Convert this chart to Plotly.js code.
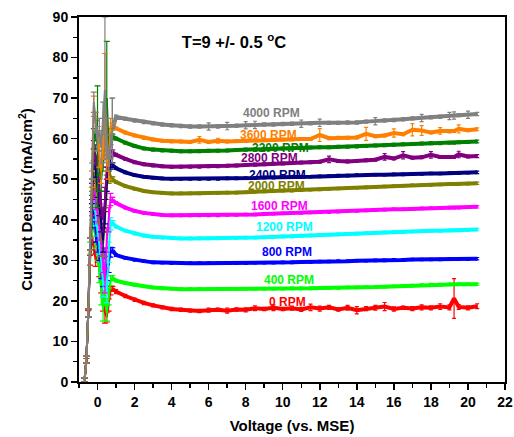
<!DOCTYPE html>
<html><head><meta charset="utf-8">
<script src="https://cdn.plot.ly/plotly-3.0.1.min.js"></script>
<style>html,body{margin:0;padding:0;background:#fff}</style>
</head><body>
<div id="chart" style="width:514px;height:437px"></div>
<script>
// Voltage (vs. MSE)
var voltage = [-0.7,-0.6,-0.5,-0.4,-0.3,-0.2,-0.1,0,0.1,0.2,0.3,0.4,0.5,0.6,0.7,0.8,
  1,1.5,2,2.5,3,3.5,4,4.5,5,5.5,6,6.5,7,7.5,8,8.5,9,9.5,10,10.5,11,11.5,12,12.5,13,13.5,14,14.5,15,15.5,16,16.5,17,17.5,18,18.5,19,19.25,19.5,20,20.5];

var seriesNames = ['0 RPM','400 RPM','800 RPM','1200 RPM','1600 RPM','2000 RPM','2400 RPM','2800 RPM','3200 RPM','3600 RPM','4000 RPM'];
var seriesColors = ['#ff0000','#00ff00','#0000ff','#00ffff','#ff00ff','#808000','#000080','#800080','#008000','#ff8000','#808080'];

// Current density (mA/cm^2)
var rpm0 = [0.4,5.2,16.8,30,36,33,30,31,28,24,20,17,16,19,22.5,23.0,
  22.3,21.2,20.3,19.5,18.9,18.4,18.0,17.8,17.6,17.5,17.7,17.8,17.6,17.9,17.8,18.2,18.0,18.3,18.0,18.2,17.9,18.4,18.1,18.4,17.9,18.3,17.7,18.1,18.3,18.6,18.0,18.3,18.1,18.4,18.3,18.6,18.4,20.6,18.5,18.3,18.7];
var rpm400 = [0.5,5.5,17,33,38,40,35,32,27,22,18,22,17,21,25,25.6,
  25.0,24.4,23.9,23.6,23.3,23.1,23.0,22.9,22.9,22.9,22.9,22.9,22.9,22.9,23.0,23.0,23.0,23.0,23.0,23.1,23.1,23.1,23.2,23.2,23.2,23.3,23.3,23.4,23.4,23.5,23.6,23.7,23.8,23.9,24.0,24.0,24.1,24.1,24.1,24.1,24.1];
var rpm800 = [0.5,5.5,17,34,40,43,37,34,32,28,26,30,27,29,32,32.5,
  31.3,30.6,30.1,29.8,29.5,29.4,29.3,29.3,29.3,29.3,29.3,29.3,29.3,29.3,29.3,29.4,29.4,29.4,29.5,29.5,29.6,29.6,29.7,29.7,29.8,29.8,29.9,29.9,30.0,30.0,30.1,30.1,30.2,30.2,30.2,30.2,30.3,30.3,30.3,30.3,30.4];
var rpm1200 = [0.5,5.5,17,34,42,45,41,38,34,30,24,27,22,32,39,39.2,
  38.3,37.3,36.6,36.1,35.8,35.6,35.5,35.4,35.4,35.4,35.4,35.4,35.5,35.5,35.6,35.6,35.7,35.8,35.9,35.9,36.0,36.1,36.2,36.3,36.4,36.5,36.6,36.7,36.8,36.9,37.0,37.0,37.1,37.2,37.3,37.3,37.4,37.4,37.4,37.5,37.6];
var rpm1600 = [0.5,5.5,17,34,43,48,45,42,38,34,30,25,35,40,45,44.9,
  44.1,43.0,42.2,41.7,41.4,41.2,41.1,41.1,41.1,41.1,41.1,41.1,41.2,41.2,41.3,41.3,41.4,41.5,41.6,41.6,41.7,41.8,41.9,41.9,42.0,42.1,42.2,42.3,42.4,42.5,42.6,42.6,42.7,42.8,42.9,42.9,43.0,43.0,43.0,43.1,43.2];
var rpm2000 = [0.5,5.5,17,34,45,52,50,46,42,38,34,40,48,52,51,50,
  49.3,48.3,47.6,47.1,46.8,46.6,46.5,46.5,46.5,46.5,46.6,46.6,46.7,46.7,46.8,46.9,47.0,47.1,47.2,47.2,47.3,47.4,47.5,47.6,47.7,47.8,47.9,48.0,48.1,48.2,48.3,48.4,48.5,48.5,48.6,48.7,48.8,48.8,48.8,48.9,49.0];
var rpm2400 = [0.5,5.5,17,34,46,55,53,48,44,40,35,42,50,56,54,53.5,
  52.7,51.7,51.0,50.6,50.3,50.2,50.1,50.1,50.1,50.1,50.1,50.1,50.2,50.2,50.3,50.3,50.4,50.4,50.5,50.5,50.6,50.6,50.7,50.8,50.9,50.9,51.0,51.0,51.1,51.1,51.2,51.2,51.3,51.3,51.4,51.4,51.5,51.5,51.5,51.6,51.7];
var rpm2800 = [0.5,5.5,17,34,47,57,56,52,47,44,40,45,53,55,57,56.6,
  56.0,55.0,54.2,53.7,53.4,53.2,53.1,53.1,53.1,53.1,53.2,53.2,53.3,53.4,53.5,53.6,53.7,53.8,53.9,54.0,54.1,54.2,54.3,54.9,54.5,54.4,54.5,54.7,54.8,55.5,55.1,55.9,55.3,55.4,56.0,55.5,55.5,55.5,56.1,55.6,55.7];
var rpm3200 = [0.5,5.5,17,34,48,60,62,58,54,50,55,60,70,58,61,60.5,
  60.0,59.0,58.2,57.6,57.3,57.1,57.0,56.9,56.9,56.9,57.0,57.0,57.1,57.2,57.3,57.3,57.4,57.5,57.6,57.6,57.7,57.8,57.9,57.9,58.0,58.0,58.1,58.2,58.3,58.4,58.5,58.6,58.7,58.8,58.9,58.9,59.0,59.0,59.1,59.2,59.3];
var rpm3600 = [0.5,5.5,17,34,50,68,64,60,56,52,58,68,55,53,63,63,
  62.5,61.5,60.8,60.2,59.8,59.5,59.3,59.3,59.2,59.7,59.2,59.5,59.3,59.4,59.5,59.6,59.7,59.7,59.8,59.8,59.9,59.9,60.9,60.1,60.2,60.2,60.3,61.2,60.6,60.8,61.4,61.1,62.2,62.0,61.5,61.9,61.8,61.9,62.4,62.1,62.3];
var rpm4000 = [0.5,5.5,17,34,52,69,64,60,62,58,65,72,60,55,58,62,
  65.4,64.9,64.5,64.1,63.8,63.5,63.3,63.1,63.0,63.0,63.0,63.0,63.1,63.2,63.3,63.4,63.5,63.5,63.6,63.7,63.7,63.8,63.9,63.9,63.9,64.0,64.0,64.2,64.3,64.5,64.6,64.8,65.0,65.1,65.3,65.4,65.6,65.7,65.8,65.9,66.1];

// Error bars (+/-)
var err0 = [0.5,0.6,0.8,1.2,1.5,1.5,1.5,1.5,2,2,2.5,2.5,1.2,1.5,1,0.6,
  0.5,0.4,0.4,0.4,0.4,0.4,0.4,0.4,0.4,0.4,0.5,0.4,0.6,0.4,0.5,0.6,0.4,0.7,0.4,0.5,0.5,0.8,0.6,0.5,0.4,0.6,0.9,0.5,0.6,1.0,0.5,0.4,0.5,0.6,0.5,0.7,0.6,4.9,0.6,0.5,0.6];
var err400 = [0.5,0.8,1,1.5,2,2,2,2,2.5,3,3,3,2,2,1.2,0.6,
  0.3,0.3,0.3,0.3,0.3,0.3,0.3,0.3,0.3,0.3,0.3,0.3,0.3,0.3,0.3,0.3,0.3,0.3,0.3,0.3,0.3,0.3,0.3,0.3,0.3,0.3,0.3,0.3,0.3,0.3,0.3,0.3,0.3,0.3,0.3,0.3,0.3,0.3,0.3,0.3,0.3];
var err800 = [0.5,0.8,1,1.5,2,2.5,2.5,2,2,2.5,2.5,3,2,2,1.2,0.6,
  0.3,0.3,0.3,0.3,0.3,0.3,0.3,0.3,0.3,0.3,0.3,0.3,0.3,0.3,0.3,0.3,0.3,0.3,0.3,0.3,0.3,0.3,0.3,0.3,0.3,0.3,0.3,0.3,0.3,0.3,0.3,0.3,0.3,0.3,0.3,0.3,0.3,0.3,0.3,0.3,0.3];
var err1200 = [0.5,0.8,1,1.5,2,2.5,2.5,2,2.5,3,3,3,2.5,2.5,1.5,0.6,
  0.3,0.3,0.3,0.3,0.3,0.3,0.3,0.3,0.3,0.3,0.3,0.3,0.3,0.3,0.3,0.3,0.3,0.3,0.3,0.3,0.3,0.3,0.3,0.3,0.3,0.3,0.3,0.3,0.3,0.3,0.3,0.3,0.3,0.3,0.3,0.3,0.3,0.3,0.3,0.3,0.3];
var err1600 = [0.5,0.8,1,1.5,2,2.5,2.5,2.5,3,3,3,3,3,3,1.5,0.6,
  0.3,0.3,0.3,0.3,0.3,0.3,0.3,0.3,0.3,0.3,0.3,0.3,0.3,0.3,0.3,0.3,0.3,0.3,0.3,0.3,0.3,0.3,0.3,0.3,0.3,0.3,0.3,0.3,0.3,0.3,0.3,0.3,0.3,0.3,0.3,0.3,0.3,0.3,0.3,0.3,0.3];
var err2000 = [0.5,0.8,1,1.5,2,2.5,2.5,2.5,3,3,3,3,3,3,1.5,0.6,
  0.3,0.3,0.3,0.3,0.3,0.3,0.3,0.3,0.3,0.3,0.3,0.3,0.3,0.3,0.3,0.3,0.3,0.3,0.3,0.3,0.3,0.3,0.3,0.3,0.3,0.3,0.3,0.3,0.3,0.3,0.3,0.3,0.3,0.3,0.3,0.3,0.3,0.3,0.3,0.3,0.3];
var err2400 = [0.5,0.8,1,1.5,2,2.5,2.5,2.5,3,3,3,3,3,3,1.5,0.6,
  0.3,0.3,0.3,0.3,0.3,0.3,0.3,0.3,0.3,0.3,0.3,0.3,0.3,0.3,0.3,0.3,0.3,0.3,0.3,0.3,0.3,0.3,0.3,0.3,0.3,0.3,0.3,0.3,0.3,0.3,0.3,0.3,0.3,0.3,0.3,0.3,0.3,0.3,0.3,0.3,0.3];
var err2800 = [0.5,0.8,1,1.5,2,2.5,2.5,2.5,3,3,3,3,3,3,1.5,0.6,
  0.35,0.35,0.35,0.35,0.35,0.35,0.35,0.35,0.35,0.35,0.35,0.35,0.35,0.35,0.35,0.35,0.35,0.35,0.35,0.35,0.35,0.35,0.35,0.8,0.35,0.35,0.35,0.35,0.35,0.8,0.35,0.9,0.35,0.35,0.8,0.35,0.35,0.35,0.8,0.35,0.35];
var err3200 = [0.5,0.8,1,1.5,2,2.5,2.5,15,3,3,3,3,14,3,1.5,0.6,
  0.35,0.35,0.35,0.35,0.35,0.35,0.35,0.35,0.35,0.35,0.35,0.35,0.35,0.35,0.35,0.35,0.35,0.35,0.35,0.35,0.35,0.35,0.35,0.35,0.35,0.35,0.35,0.35,0.35,0.35,0.35,0.35,0.35,0.35,0.35,0.35,0.35,0.35,0.35,0.35,0.35];
var err3600 = [0.5,0.8,1,1.5,2,2.5,2.5,3,3,3,3,13,3,3,2,0.8,
  0.35,0.35,0.35,0.35,0.35,0.35,0.35,0.35,0.35,0.8,0.35,0.6,0.35,0.35,0.35,0.35,0.35,0.35,0.35,0.35,0.35,0.35,1.6,0.35,0.35,0.35,0.35,1.6,0.35,0.35,1.0,0.35,1.5,1.2,0.35,0.8,0.35,0.35,1.0,0.35,0.35];
var err4000 = [0.5,0.8,1,1.5,2,2.5,2.5,3,3,4,4,18,5,3,3,8,
  0.4,0.4,0.4,0.4,0.4,0.4,0.4,0.4,0.4,0.4,0.9,0.4,0.9,0.4,0.9,0.9,0.4,0.4,0.4,0.4,0.9,0.4,0.9,0.4,0.4,0.4,0.4,0.4,0.9,0.4,0.4,0.4,0.4,0.9,0.4,0.4,0.9,0.9,0.4,0.9,0.4];

var seriesY = [rpm0,rpm400,rpm800,rpm1200,rpm1600,rpm2000,rpm2400,rpm2800,rpm3200,rpm3600,rpm4000];
var seriesErr = [err0,err400,err800,err1200,err1600,err2000,err2400,err2800,err3200,err3600,err4000];

// Label anchor positions in data units (layout)
var labelX = [10.24,10.35,10.24,10.08,9.81,9.65,9.70,9.27,9.87,9.22,9.38];
var labelY = [19.7,25.1,32.1,38.2,43.4,48.3,51.0,55.2,57.7,60.9,66.3];

var FONT = 'Liberation Sans, Arial, Helvetica, sans-serif';
var SPLIT = 16; // first points = transient region near 0 V
var smoothTraces = [];
var spikeTraces = [];
var annotations = [];
for (var i = 0; i < seriesNames.length; i++) {
  smoothTraces.push({
    type: 'scatter', mode: 'lines', name: seriesNames[i],
    x: voltage.slice(SPLIT - 1), y: seriesY[i].slice(SPLIT - 1),
    line: {color: seriesColors[i], width: 4},
    error_y: {type: 'data', array: seriesErr[i].slice(SPLIT - 1), visible: true, color: seriesColors[i], thickness: 1.2, width: 2},
    hoverinfo: 'skip'
  });
  spikeTraces.push({
    type: 'scatter', mode: 'lines', name: seriesNames[i],
    x: voltage.slice(0, SPLIT), y: seriesY[i].slice(0, SPLIT),
    line: {color: seriesColors[i], width: 2},
    error_y: {type: 'data', array: seriesErr[i].slice(0, SPLIT), visible: true, color: seriesColors[i], thickness: 1.2, width: 3},
    hoverinfo: 'skip'
  });
  annotations.push({
    x: labelX[i], y: labelY[i], xref: 'x', yref: 'y', text: seriesNames[i], showarrow: false,
    xanchor: 'center', yanchor: 'middle',
    font: {family: FONT, size: 12, color: seriesColors[i], weight: 'bold'}
  });
}
var traces = smoothTraces.concat(spikeTraces);

var axisCommon = {showgrid: false, zeroline: false, showline: true, linewidth: 2, linecolor: '#000',
  tickcolor: '#000', tickwidth: 1.5};

var layout = {
  width: 514, height: 437,
  margin: {l: 79, r: 9, t: 17, b: 55, pad: 0},
  paper_bgcolor: '#fff', plot_bgcolor: '#fff',
  showlegend: false,
  font: {family: FONT, size: 14, color: '#000', weight: 'bold'},
  title: {text: 'T=9 +/- 0.5 <sup>o</sup>C', x: 234/514, xanchor: 'center', y: 1 - 42/437, yanchor: 'middle',
    font: {family: FONT, size: 16.5, color: '#000', weight: 'bold'}},
  xaxis: Object.assign({}, axisCommon, {
    range: [-1, 22], tick0: 0, dtick: 2, ticks: 'outside', ticklen: 6, mirror: true,
    minor: {dtick: 1, tick0: 0, ticks: 'outside', ticklen: 4, tickwidth: 1.5, tickcolor: '#000'},
    tickfont: {family: FONT, size: 14, weight: 'bold'},
    title: {text: 'Voltage (vs. MSE)', font: {family: FONT, size: 15, weight: 'bold'}, standoff: 12}
  }),
  xaxis2: Object.assign({}, axisCommon, {
    overlaying: 'x', side: 'top', anchor: 'y', range: [-1, 22], tick0: 0, dtick: 2,
    ticks: 'inside', ticklen: 6, showticklabels: false,
    minor: {dtick: 1, tick0: 0, ticks: 'inside', ticklen: 4, tickwidth: 1.5, tickcolor: '#000'}
  }),
  yaxis: Object.assign({}, axisCommon, {
    range: [0, 90], tick0: 0, dtick: 10, ticks: 'outside', ticklen: 6, mirror: true,
    minor: {dtick: 5, tick0: 0, ticks: 'outside', ticklen: 4, tickwidth: 1.5, tickcolor: '#000'},
    tickfont: {family: FONT, size: 14, weight: 'bold'},
    title: {text: 'Current Density (mA/cm<sup>2</sup>)', font: {family: FONT, size: 15, weight: 'bold'}, standoff: 16}
  }),
  yaxis2: Object.assign({}, axisCommon, {
    overlaying: 'y', side: 'right', anchor: 'x', range: [0, 90], tick0: 0, dtick: 10,
    ticks: 'inside', ticklen: 6, showticklabels: false,
    minor: {dtick: 5, tick0: 0, ticks: 'inside', ticklen: 4, tickwidth: 1.5, tickcolor: '#000'}
  }),
  annotations: annotations
};

Plotly.newPlot('chart', traces, layout, {displayModeBar: false, staticPlot: true});
</script>
</body></html>
